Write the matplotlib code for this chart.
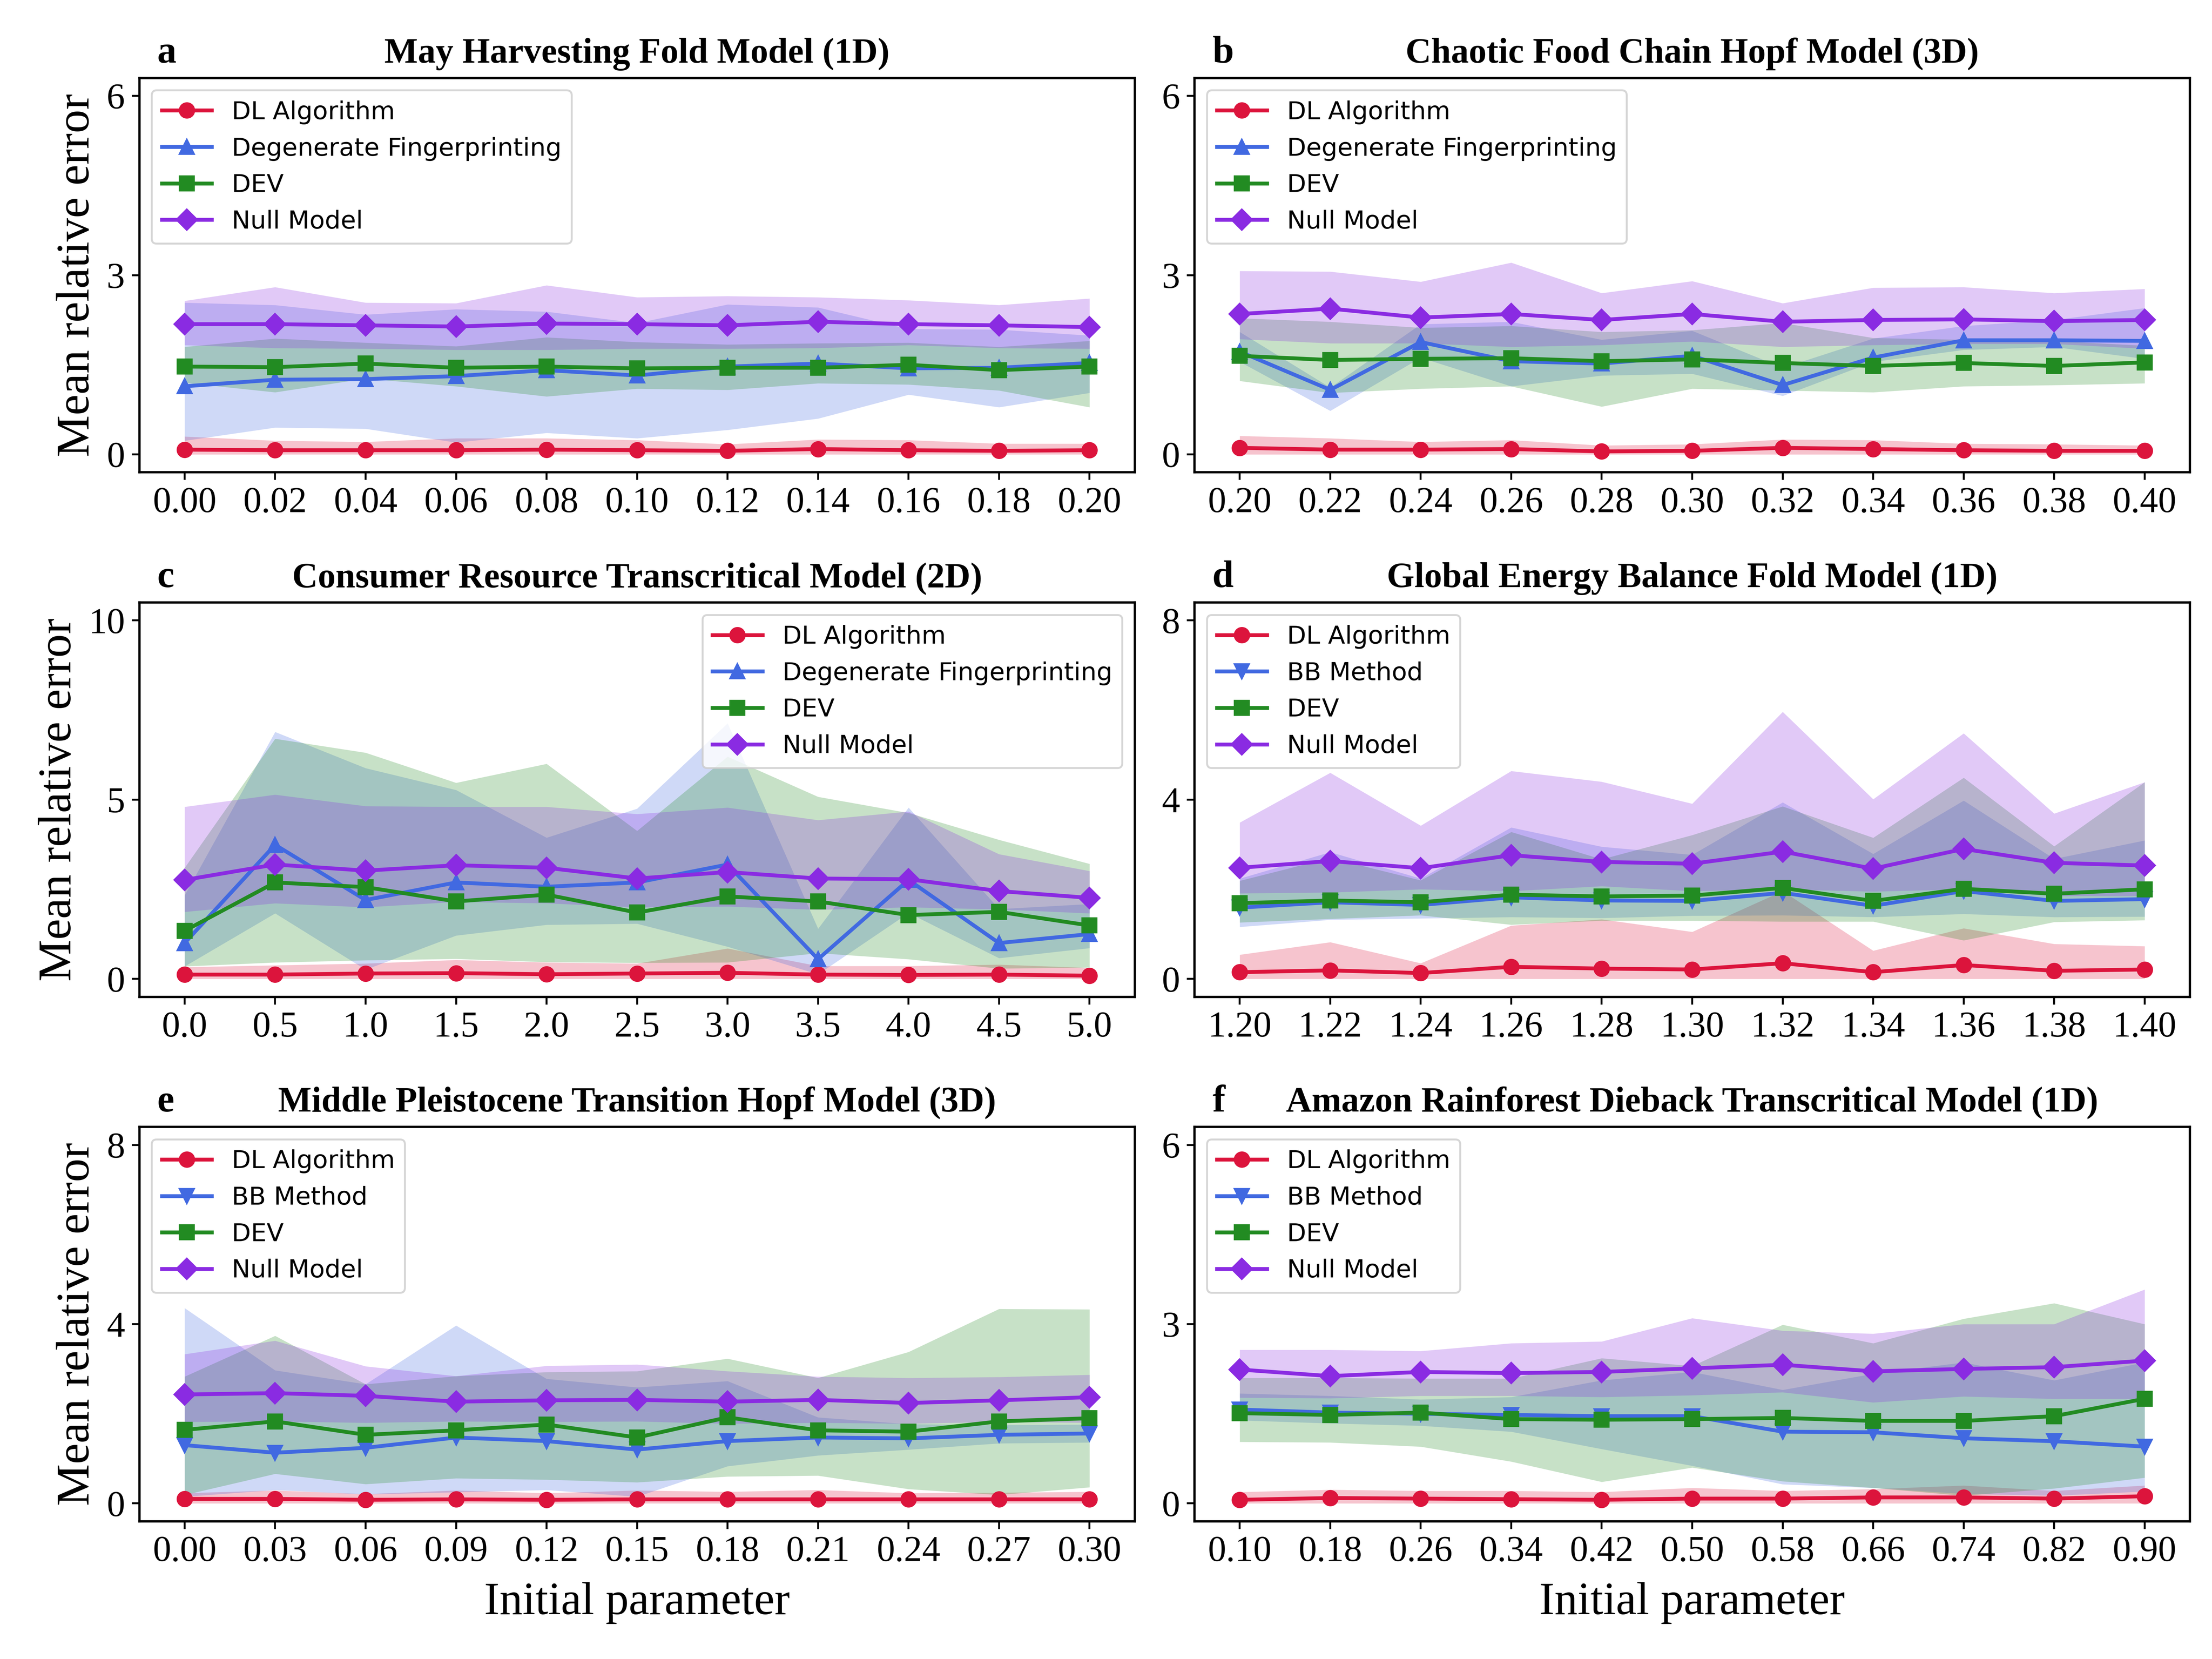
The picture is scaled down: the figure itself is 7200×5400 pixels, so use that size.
import matplotlib
matplotlib.use("Agg")
import matplotlib.pyplot as plt
from matplotlib.transforms import offset_copy

plt.rcParams['font.family'] = ['Liberation Serif', 'DejaVu Serif']

# ---- panel a : May Harvesting Fold Model (1D)
x_a = [0.00, 0.02, 0.04, 0.06, 0.08, 0.10, 0.12, 0.14, 0.16, 0.18, 0.20]
dl_a = [0.08, 0.07, 0.07, 0.07, 0.08, 0.07, 0.06, 0.09, 0.07, 0.06, 0.07]
dl_a_lo = [0.0, 0.0, 0.0, 0.0, 0.0, 0.0, 0.0, 0.0, 0.0, 0.0, 0.0]
dl_a_hi = [0.30, 0.23, 0.21, 0.27, 0.27, 0.24, 0.17, 0.25, 0.24, 0.18, 0.18]
df_a = [1.14, 1.25, 1.26, 1.31, 1.41, 1.32, 1.47, 1.52, 1.44, 1.45, 1.53]
df_a_lo = [0.23, 0.45, 0.43, 0.20, 0.36, 0.27, 0.41, 0.60, 1.00, 0.79, 1.03]
df_a_hi = [2.54, 2.50, 2.34, 2.43, 2.39, 2.20, 2.51, 2.46, 2.10, 2.09, 1.99]
dev_a = [1.47, 1.46, 1.52, 1.45, 1.47, 1.44, 1.45, 1.45, 1.50, 1.41, 1.47]
dev_a_lo = [1.20, 1.04, 1.27, 1.14, 0.97, 1.10, 1.08, 1.19, 1.17, 1.07, 0.79]
dev_a_hi = [1.80, 1.94, 1.87, 1.81, 1.96, 1.88, 1.84, 1.86, 1.87, 1.80, 1.90]
null_a = [2.18, 2.18, 2.16, 2.14, 2.19, 2.18, 2.16, 2.22, 2.18, 2.16, 2.13]
null_a_lo = [1.83, 1.78, 1.77, 1.75, 1.75, 1.77, 1.77, 1.78, 1.83, 1.78, 1.77]
null_a_hi = [2.57, 2.80, 2.54, 2.53, 2.83, 2.63, 2.65, 2.63, 2.58, 2.50, 2.61]

# ---- panel b : Chaotic Food Chain Hopf Model (3D)
x_b = [0.20, 0.22, 0.24, 0.26, 0.28, 0.30, 0.32, 0.34, 0.36, 0.38, 0.40]
dl_b = [0.11, 0.08, 0.08, 0.09, 0.05, 0.06, 0.11, 0.09, 0.07, 0.06, 0.06]
dl_b_lo = [0.0, 0.0, 0.0, 0.0, 0.0, 0.0, 0.0, 0.0, 0.0, 0.0, 0.0]
dl_b_hi = [0.31, 0.27, 0.21, 0.24, 0.15, 0.17, 0.25, 0.24, 0.18, 0.17, 0.15]
df_b = [1.72, 1.08, 1.88, 1.56, 1.52, 1.65, 1.16, 1.62, 1.91, 1.91, 1.90]
df_b_lo = [1.55, 0.73, 1.62, 1.14, 1.32, 1.35, 0.98, 1.55, 1.75, 1.80, 1.60]
df_b_hi = [2.05, 1.12, 2.18, 2.22, 1.92, 2.07, 1.45, 1.94, 2.15, 2.25, 2.45]
dev_b = [1.65, 1.58, 1.60, 1.61, 1.56, 1.59, 1.53, 1.48, 1.53, 1.48, 1.54]
dev_b_lo = [1.23, 1.03, 1.10, 1.14, 0.80, 1.10, 1.07, 1.04, 1.14, 1.16, 1.19]
dev_b_hi = [2.28, 2.22, 2.12, 2.15, 2.05, 2.08, 2.20, 1.95, 1.92, 1.90, 1.82]
null_b = [2.35, 2.44, 2.29, 2.35, 2.25, 2.35, 2.22, 2.25, 2.26, 2.23, 2.25]
null_b_lo = [1.93, 1.86, 1.86, 1.80, 1.83, 1.89, 1.80, 1.83, 1.85, 1.85, 1.77]
null_b_hi = [3.07, 3.06, 2.89, 3.21, 2.70, 2.90, 2.53, 2.79, 2.80, 2.70, 2.77]

# ---- panel c : Consumer Resource Transcritical Model (2D)
x_c = [0.0, 0.5, 1.0, 1.5, 2.0, 2.5, 3.0, 3.5, 4.0, 4.5, 5.0]
dl_c = [0.12, 0.12, 0.15, 0.16, 0.13, 0.15, 0.17, 0.12, 0.11, 0.12, 0.09]
dl_c_lo = [0.0, 0.0, 0.0, 0.0, 0.0, 0.0, 0.0, 0.0, 0.0, 0.0, 0.0]
dl_c_hi = [0.33, 0.38, 0.43, 0.53, 0.46, 0.43, 0.85, 0.36, 0.36, 0.40, 0.31]
df_c = [1.00, 3.74, 2.20, 2.69, 2.57, 2.69, 3.19, 0.55, 2.76, 1.00, 1.25]
df_c_lo = [0.35, 1.83, 0.26, 1.21, 1.51, 1.54, 0.90, 0.13, 1.84, 0.58, 0.86]
df_c_hi = [2.33, 6.89, 5.88, 5.27, 3.94, 4.75, 7.13, 1.40, 4.78, 1.95, 2.09]
dev_c = [1.34, 2.69, 2.56, 2.16, 2.35, 1.85, 2.30, 2.16, 1.78, 1.87, 1.49]
dev_c_lo = [0.35, 0.46, 0.52, 0.56, 0.47, 0.45, 0.46, 0.72, 0.55, 0.29, 0.32]
dev_c_hi = [3.10, 6.70, 6.31, 5.47, 6.00, 4.13, 6.20, 5.08, 4.63, 3.88, 3.21]
null_c = [2.76, 3.19, 3.02, 3.17, 3.10, 2.80, 2.98, 2.80, 2.78, 2.45, 2.26]
null_c_lo = [1.87, 2.11, 2.00, 2.15, 2.11, 2.00, 2.02, 1.93, 2.00, 1.94, 1.83]
null_c_hi = [4.80, 5.14, 4.82, 4.80, 4.80, 4.60, 4.78, 4.43, 4.67, 3.48, 3.01]

# ---- panel d : Global Energy Balance Fold Model (1D)
x_d = [1.20, 1.22, 1.24, 1.26, 1.28, 1.30, 1.32, 1.34, 1.36, 1.38, 1.40]
dl_d = [0.15, 0.19, 0.13, 0.27, 0.23, 0.21, 0.35, 0.15, 0.31, 0.18, 0.21]
dl_d_lo = [0.0, 0.0, 0.0, 0.0, 0.0, 0.0, 0.0, 0.0, 0.0, 0.0, 0.0]
dl_d_hi = [0.54, 0.82, 0.35, 1.19, 1.33, 1.05, 1.96, 0.63, 1.13, 0.78, 0.73]
bb_d = [1.59, 1.71, 1.65, 1.82, 1.75, 1.74, 1.92, 1.63, 1.96, 1.74, 1.78]
bb_d_lo = [1.16, 1.32, 1.35, 1.38, 1.36, 1.41, 1.42, 1.38, 1.45, 1.38, 1.39]
bb_d_hi = [2.24, 2.83, 2.24, 3.38, 2.95, 2.77, 3.94, 2.79, 3.98, 2.68, 3.09]
dev_d = [1.69, 1.75, 1.71, 1.88, 1.84, 1.86, 2.03, 1.74, 2.01, 1.90, 2.00]
dev_d_lo = [1.26, 1.34, 1.42, 1.21, 1.30, 1.30, 1.28, 1.28, 0.86, 1.27, 1.31]
dev_d_hi = [2.19, 2.70, 2.20, 3.28, 2.67, 3.21, 3.85, 3.15, 4.49, 2.96, 4.39]
null_d = [2.48, 2.63, 2.47, 2.76, 2.61, 2.57, 2.84, 2.46, 2.90, 2.59, 2.53]
null_d_lo = [1.91, 1.93, 2.00, 1.96, 2.07, 1.96, 2.00, 1.95, 2.00, 1.85, 1.85]
null_d_hi = [3.49, 4.60, 3.42, 4.64, 4.40, 3.91, 5.96, 4.01, 5.48, 3.69, 4.39]

# ---- panel e : Middle Pleistocene Transition Hopf Model (3D)
x_e = [0.00, 0.03, 0.06, 0.09, 0.12, 0.15, 0.18, 0.21, 0.24, 0.27, 0.30]
dl_e = [0.10, 0.10, 0.08, 0.09, 0.08, 0.09, 0.09, 0.09, 0.09, 0.09, 0.09]
dl_e_lo = [0.0, 0.0, 0.0, 0.0, 0.0, 0.0, 0.0, 0.0, 0.0, 0.0, 0.0]
dl_e_hi = [0.23, 0.29, 0.21, 0.29, 0.23, 0.29, 0.26, 0.30, 0.23, 0.24, 0.26]
bb_e = [1.30, 1.13, 1.24, 1.47, 1.39, 1.20, 1.39, 1.47, 1.45, 1.53, 1.56]
bb_e_lo = [0.15, 0.30, 0.20, 0.25, 0.30, 0.15, 0.83, 1.07, 1.20, 1.34, 1.36]
bb_e_hi = [4.36, 2.97, 2.66, 3.97, 2.78, 2.59, 2.73, 1.92, 1.77, 1.75, 1.76]
dev_e = [1.64, 1.83, 1.53, 1.63, 1.76, 1.47, 1.92, 1.63, 1.60, 1.83, 1.90]
dev_e_lo = [0.19, 0.66, 0.43, 0.56, 0.53, 0.47, 0.60, 0.62, 0.32, 0.19, 0.36]
dev_e_hi = [2.83, 3.74, 2.66, 2.84, 2.93, 2.95, 3.23, 2.80, 3.38, 4.34, 4.33]
null_e = [2.43, 2.46, 2.40, 2.27, 2.30, 2.31, 2.27, 2.31, 2.24, 2.30, 2.37]
null_e_lo = [1.82, 1.83, 1.80, 1.83, 1.82, 1.83, 1.78, 1.80, 1.78, 1.82, 1.80]
null_e_hi = [3.33, 3.63, 3.06, 2.84, 3.07, 3.10, 2.95, 2.83, 2.80, 2.82, 2.87]

# ---- panel f : Amazon Rainforest Dieback Transcritical Model (1D)
x_f = [0.10, 0.18, 0.26, 0.34, 0.42, 0.50, 0.58, 0.66, 0.74, 0.82, 0.90]
dl_f = [0.06, 0.09, 0.08, 0.07, 0.06, 0.08, 0.08, 0.10, 0.10, 0.08, 0.12]
dl_f_lo = [0.0, 0.0, 0.0, 0.0, 0.0, 0.0, 0.0, 0.0, 0.0, 0.0, 0.0]
dl_f_hi = [0.19, 0.23, 0.21, 0.21, 0.19, 0.26, 0.21, 0.24, 0.30, 0.21, 0.30]
bb_f = [1.57, 1.52, 1.50, 1.48, 1.46, 1.46, 1.20, 1.19, 1.09, 1.04, 0.95]
bb_f_lo = [1.39, 1.34, 1.30, 1.20, 0.91, 0.63, 0.32, 0.26, 0.16, 0.13, 0.20]
bb_f_hi = [1.84, 1.80, 1.74, 1.78, 2.06, 2.20, 1.90, 2.17, 2.36, 2.06, 2.36]
dev_f = [1.51, 1.48, 1.52, 1.41, 1.40, 1.41, 1.43, 1.38, 1.38, 1.46, 1.75]
dev_f_lo = [1.03, 1.02, 0.95, 0.70, 0.36, 0.60, 0.37, 0.26, 0.13, 0.25, 0.43]
dev_f_hi = [2.10, 2.10, 2.09, 2.09, 2.43, 2.30, 2.99, 2.68, 3.09, 3.35, 3.00]
null_f = [2.24, 2.13, 2.20, 2.18, 2.20, 2.26, 2.32, 2.21, 2.25, 2.28, 2.39]
null_f_lo = [1.77, 1.76, 1.80, 1.80, 1.78, 1.81, 1.86, 1.69, 1.79, 1.75, 1.75]
null_f_hi = [2.57, 2.57, 2.55, 2.68, 2.71, 3.10, 2.89, 2.84, 3.00, 3.00, 3.58]

titles = ["May Harvesting Fold Model (1D)", "Chaotic Food Chain Hopf Model (3D)",
          "Consumer Resource Transcritical Model (2D)", "Global Energy Balance Fold Model (1D)",
          "Middle Pleistocene Transition Hopf Model (3D)", "Amazon Rainforest Dieback Transcritical Model (1D)"]
letters = ['a', 'b', 'c', 'd', 'e', 'f']
ymaxs = [6, 6, 10, 8, 8, 6]
tick_fmt = ['{:.2f}', '{:.2f}', '{:.1f}', '{:.2f}', '{:.2f}', '{:.2f}']
legend_loc = ['upper left', 'upper left', 'upper right', 'upper left', 'upper left', 'upper left']

panels = [
    (x_a, [(dl_a, dl_a_lo, dl_a_hi), (df_a, df_a_lo, df_a_hi), (dev_a, dev_a_lo, dev_a_hi), (null_a, null_a_lo, null_a_hi)], 'DF'),
    (x_b, [(dl_b, dl_b_lo, dl_b_hi), (df_b, df_b_lo, df_b_hi), (dev_b, dev_b_lo, dev_b_hi), (null_b, null_b_lo, null_b_hi)], 'DF'),
    (x_c, [(dl_c, dl_c_lo, dl_c_hi), (df_c, df_c_lo, df_c_hi), (dev_c, dev_c_lo, dev_c_hi), (null_c, null_c_lo, null_c_hi)], 'DF'),
    (x_d, [(dl_d, dl_d_lo, dl_d_hi), (bb_d, bb_d_lo, bb_d_hi), (dev_d, dev_d_lo, dev_d_hi), (null_d, null_d_lo, null_d_hi)], 'BB'),
    (x_e, [(dl_e, dl_e_lo, dl_e_hi), (bb_e, bb_e_lo, bb_e_hi), (dev_e, dev_e_lo, dev_e_hi), (null_e, null_e_lo, null_e_hi)], 'BB'),
    (x_f, [(dl_f, dl_f_lo, dl_f_hi), (bb_f, bb_f_lo, bb_f_hi), (dev_f, dev_f_lo, dev_f_hi), (null_f, null_f_lo, null_f_hi)], 'BB'),
]

colors = ['crimson', 'royalblue', 'forestgreen', 'blueviolet']

fig, axes = plt.subplots(3, 2, figsize=(16, 12))
fig.subplots_adjust(left=0.063, right=0.99, bottom=0.083, top=0.953, wspace=0.06, hspace=0.33)

for i, ax in enumerate(axes.flat):
    x, series, kind = panels[i]
    if kind == 'DF':
        names = ['DL Algorithm', 'Degenerate Fingerprinting', 'DEV', 'Null Model']
        markers = ['o', '^', 's', 'D']
    else:
        names = ['DL Algorithm', 'BB Method', 'DEV', 'Null Model']
        markers = ['o', 'v', 's', 'D']
    for (m, lo, hi), c, mk, nm in zip(series, colors, markers, names):
        ax.plot(x, m, color=c, marker=mk, markersize=7.5, linewidth=2, label=nm)
        ax.fill_between(x, lo, hi, color=c, alpha=0.25, linewidth=0)

    ymax = ymaxs[i]
    ax.set_ylim(-0.05 * ymax, 1.05 * ymax)
    ax.set_yticks([0, ymax / 2, ymax])
    ax.set_yticklabels([str(int(v)) for v in [0, ymax / 2, ymax]])
    ax.set_xticks(x)
    ax.set_xticklabels([tick_fmt[i].format(v) for v in x])
    ax.tick_params(labelsize=19, width=1.0, length=4)
    for sp in ax.spines.values():
        sp.set_linewidth(1.2)

    ax.set_title(titles[i], fontsize=18.5, fontweight='bold', pad=8)
    trans = offset_copy(ax.transAxes, fig=fig, y=8, units='points')
    ax.text(0.018, 1.0, letters[i], transform=trans, fontsize=20, fontweight='bold',
            ha='left', va='baseline')

    ax.legend(loc=legend_loc[i], prop={'family': 'DejaVu Sans', 'size': 13})

    if i % 2 == 0:
        ax.set_ylabel('Mean relative error', fontsize=24.5)
    if i >= 4:
        ax.set_xlabel('Initial parameter', fontsize=24, labelpad=7)

fig.savefig('out.png', dpi=450)
